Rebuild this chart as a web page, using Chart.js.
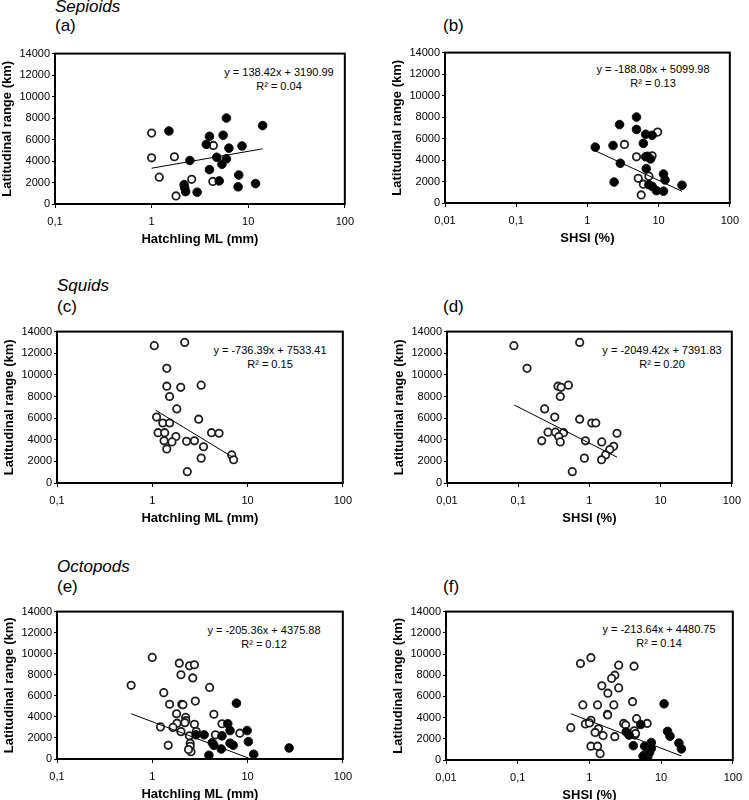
<!DOCTYPE html>
<html><head><meta charset="utf-8">
<script src="https://cdn.jsdelivr.net/npm/chart.js@4.4.0/dist/chart.umd.min.js"></script>
<style>
body{margin:0;width:749px;height:800px;position:relative;background:#fff;font-family:'Liberation Sans',Arial,sans-serif;overflow:hidden}
canvas{position:absolute}
.lbl{position:absolute;font-size:17px;line-height:20px;color:#000;white-space:nowrap}
.it{font-style:italic}
.eq{position:absolute;width:200px;text-align:center;font-size:11px;line-height:13.5px;color:#000;white-space:nowrap}
</style></head><body>
<div class="lbl it" style="left:55px;top:-3px">Sepioids</div>
<div class="lbl" style="left:55px;top:16px">(a)</div>
<div class="lbl" style="left:443px;top:16px">(b)</div>
<div class="lbl it" style="left:57px;top:276px">Squids</div>
<div class="lbl" style="left:57px;top:297px">(c)</div>
<div class="lbl" style="left:443px;top:297px">(d)</div>
<div class="lbl it" style="left:57px;top:557px">Octopods</div>
<div class="lbl" style="left:57px;top:577px">(e)</div>
<div class="lbl" style="left:443px;top:577px">(f)</div>

<div class="eq" style="left:179px;top:66px"><div>y = 138.42x + 3190.99</div><div>R² = 0.04</div></div>
<div class="eq" style="left:553px;top:63px"><div>y = -188.08x + 5099.98</div><div>R² = 0.13</div></div>
<div class="eq" style="left:170px;top:344px"><div>y = -736.39x + 7533.41</div><div>R² = 0.15</div></div>
<div class="eq" style="left:562px;top:344px"><div>y = -2049.42x + 7391.83</div><div>R² = 0.20</div></div>
<div class="eq" style="left:164px;top:624px"><div>y = -205.36x + 4375.88</div><div>R² = 0.12</div></div>
<div class="eq" style="left:559px;top:623px"><div>y = -213.64x + 4480.75</div><div>R² = 0.14</div></div>

<canvas id="pa"></canvas><canvas id="pb"></canvas>
<canvas id="pc"></canvas><canvas id="pd"></canvas>
<canvas id="pe"></canvas><canvas id="pf"></canvas>
<script>
// ---------- tick labels ----------
const yTickValues = [0, 2000, 4000, 6000, 8000, 10000, 12000, 14000];
const yTickLabels = ['0', '2000', '4000', '6000', '8000', '10000', '12000', '14000'];
const mlTickValues = [0.1, 1, 10, 100];
const mlTickLabels = ['0,1', '1', '10', '100'];
const shsiTickValues = [0.01, 0.1, 1, 10, 100];
const shsiTickLabels = ['0,01', '0,1', '1', '10', '100'];

// ---------- (a) Sepioids, hatchling ML ----------
const sepMLOpenX = [1.0, 1.0, 1.72, 1.2, 1.79, 2.6, 4.36, 4.3];
const sepMLOpenY = [6600, 4300, 4400, 2500, 750, 2300, 5450, 2100];
const sepMLFilledX = [1.51, 5.95, 14.1, 3.97, 5.5, 3.68, 6.31, 8.62, 2.49, 4.72, 5.95, 5.34, 3.97, 5.01, 7.98, 7.86, 11.9, 2.17, 2.2, 2.25, 2.96];
const sepMLFilledY = [6800, 8000, 7300, 6300, 6400, 5550, 5200, 5400, 4050, 4350, 4200, 3700, 3200, 2150, 2700, 1600, 1900, 1800, 1500, 1150, 1100];
const sepMLTrendX = [1.0, 14.1];
const sepMLTrendY = [3330, 5140];

// ---------- (b) Sepioids, SHSI ----------
const sepSHSIOpenX = [9.7, 3.31, 4.89, 8.1, 5.17, 7.3, 6.1, 5.7];
const sepSHSIOpenY = [6600, 5450, 4300, 4400, 2300, 2500, 1750, 750];
const sepSHSIFilledX = [4.89, 2.83, 4.89, 6.57, 8.1, 1.29, 2.29, 6.1, 6.57, 7.7, 7.0, 2.9, 6.7, 11.7, 12.3, 2.37, 7.3, 8.1, 9.3, 11.7, 21.3];
const sepSHSIFilledY = [8000, 7300, 6850, 6400, 6300, 5200, 5350, 5550, 4300, 4100, 4350, 3700, 3200, 2700, 2150, 1950, 1700, 1550, 1150, 1100, 1650];
const sepSHSITrendX = [1.29, 21.3];
const sepSHSITrendY = [4860, 1090];

// ---------- (c) Squids, hatchling ML ----------
const squidMLX = [1.05, 2.19, 1.42, 1.42, 1.99, 3.26, 1.52, 1.81, 1.11, 3.07, 1.29, 1.52, 1.15, 1.35, 4.19, 5.02, 1.77, 1.33, 1.61, 2.29, 2.77, 3.45, 1.42, 3.26, 6.82, 7.14, 2.33];
const squidMLY = [12700, 13000, 10600, 8950, 8850, 9050, 8000, 6850, 6100, 5900, 5550, 5550, 4650, 4650, 4650, 4600, 4300, 3900, 3800, 3850, 3900, 3350, 3150, 2300, 2600, 2150, 1050];
const squidMLTrendX = [1.08, 6.98];
const squidMLTrendY = [6740, 2390];

// ---------- (d) Squids, SHSI ----------
const squidSHSIX = [0.087, 0.73, 0.133, 0.362, 0.40, 0.507, 0.39, 0.235, 0.326, 0.73, 1.08, 1.23, 0.262, 0.333, 0.433, 2.44, 0.37, 0.214, 0.39, 0.88, 1.49, 2.19, 1.93, 1.69, 1.48, 0.85, 0.575];
const squidSHSIY = [12700, 13000, 10600, 8950, 8850, 9050, 8000, 6850, 6100, 5900, 5550, 5550, 4700, 4700, 4650, 4600, 4300, 3900, 3800, 3900, 3800, 3400, 3100, 2600, 2150, 2300, 1050];
const squidSHSITrendX = [0.088, 2.44];
const squidSHSITrendY = [7210, 2390];

// ---------- (e) Octopods, hatchling ML ----------
const octMLOpenX = [1.0, 1.92, 2.46, 2.77, 2.0, 2.66, 0.6, 4.0, 1.32, 1.52, 2.04, 2.1, 2.83, 4.43, 1.8, 2.24, 2.25, 2.2, 1.82, 1.22, 1.65, 2.77, 5.39, 2.9, 4.6, 8.3, 2.0, 2.45, 2.5, 2.5, 2.55, 1.47, 2.4];
const octMLOpenY = [9650, 9100, 8850, 8950, 8000, 7700, 7000, 6800, 6300, 5200, 5200, 5150, 5500, 4250, 4300, 3950, 3650, 3450, 3400, 3050, 3000, 3300, 3350, 2600, 2300, 2450, 2600, 2200, 1500, 1200, 700, 1300, 900];
const octMLFilledX = [7.65, 6.2, 6.55, 9.9, 2.88, 3.5, 5.39, 4.26, 10.2, 6.55, 7.07, 4.43, 5.3, 3.93, 11.6, 27.3];
const octMLFilledY = [5300, 3350, 2700, 2700, 2300, 2300, 2200, 1550, 1650, 1500, 1300, 1300, 950, 350, 450, 1050];
const octMLTrendX = [0.6, 10.3];
const octMLTrendY = [4300, 80];

// ---------- (f) Octopods, SHSI ----------
const octSHSIOpenX = [1.05, 0.75, 2.56, 4.19, 2.26, 2.04, 1.49, 2.56, 1.81, 4.0, 0.81, 1.3, 2.19, 1.78, 1.8, 4.55, 1.05, 0.88, 1.0, 3.0, 3.2, 6.4, 0.55, 1.34, 1.2, 4.23, 4.3, 1.55, 2.26, 1.05, 1.3, 1.41, 4.4];
const octSHSIOpenY = [9650, 9100, 8950, 8850, 8000, 7700, 7000, 6800, 6300, 5500, 5200, 5200, 5200, 4300, 4250, 3900, 3750, 3400, 3500, 3450, 3300, 3450, 3050, 2950, 2600, 2750, 2350, 2300, 2200, 1300, 1300, 600, 2500];
const octSHSIFilledX = [11.0, 5.2, 3.26, 3.58, 12.3, 13.3, 17.7, 19.2, 4.1, 7.3, 5.9, 7.3, 5.8, 6.5, 5.6, 6.9];
const octSHSIFilledY = [5300, 3350, 2650, 2350, 2700, 2250, 1600, 1050, 1350, 1650, 1300, 1100, 450, 300, 350, 700];
const octSHSITrendX = [0.55, 19.2];
const octSHSITrendY = [4370, 380];

// ---------- layout ----------
const F = "'Liberation Sans', Arial, sans-serif";
const YW = 55, XH = 45, PADT = 8, PADR = 9;

const boxPlugin = {
  id: 'box',
  afterDraw(chart) {
    const a = chart.chartArea, ctx = chart.ctx;
    ctx.save();
    ctx.strokeStyle = '#000';
    ctx.lineWidth = 2;
    ctx.strokeRect(a.left, a.top, a.right - a.left, a.bottom - a.top);
    ctx.restore();
  }
};

function pts(xs, ys) { return xs.map((x, i) => ({ x: x, y: ys[i] })); }

function makePanel(id, rect, tickVals, tickLabels, xTitle, trendX, trendY, filledX, filledY, openX, openY) {
  const cv = document.getElementById(id);
  const W = rect.R - rect.L + YW + PADR, H = rect.B - rect.T + PADT + XH;
  cv.style.left = (rect.L - YW) + 'px';
  cv.style.top = (rect.T - PADT) + 'px';
  cv.width = W; cv.height = H;
  cv.style.width = W + 'px'; cv.style.height = H + 'px';
  const datasets = [{
    data: pts(trendX, trendY), showLine: true, borderColor: '#000', borderWidth: 1,
    pointRadius: 0, fill: false
  }];
  if (filledX) datasets.push({
    data: pts(filledX, filledY), backgroundColor: '#000', borderColor: '#111',
    pointRadius: 4.3, borderWidth: 1
  });
  if (openX) datasets.push({
    data: pts(openX, openY), backgroundColor: '#fff', borderColor: '#1e1e1e',
    pointRadius: 3.7, borderWidth: 1.8
  });
  new Chart(cv, {
    type: 'scatter',
    data: { datasets: datasets },
    options: {
      responsive: false, animation: false, devicePixelRatio: 1,
      layout: { padding: { top: PADT, right: PADR, left: 0, bottom: 0 } },
      plugins: { legend: { display: false }, tooltip: { enabled: false } },
      scales: {
        x: {
          type: 'logarithmic', min: tickVals[0], max: tickVals[tickVals.length - 1],
          afterBuildTicks: s => { s.ticks = tickVals.map(v => ({ value: v })); },
          afterFit: s => { s.height = XH; },
          ticks: {
            callback: (v, i) => tickLabels[i], font: { size: 11, family: F }, color: '#000',
            maxRotation: 0, autoSkip: false, padding: 7
          },
          grid: { drawOnChartArea: false, color: '#000', tickLength: 4, tickWidth: 1 },
          border: { color: '#000', width: 2 },
          title: { display: true, text: xTitle, font: { size: 13, weight: 'bold', family: F }, color: '#000', padding: { top: 2, bottom: 2 } }
        },
        y: {
          min: 0, max: 14000,
          afterBuildTicks: s => { s.ticks = yTickValues.map(v => ({ value: v })); },
          afterFit: s => { s.width = YW; },
          ticks: {
            callback: (v, i) => yTickLabels[i], font: { size: 11, family: F }, color: '#000', padding: 2
          },
          grid: { drawOnChartArea: false, color: '#000', tickLength: 3, tickWidth: 1 },
          border: { color: '#000', width: 2 },
          title: { display: true, text: 'Latitudinal range (km)', font: { size: 13, weight: 'bold', family: F }, color: '#000', padding: { top: 0, bottom: 0 } }
        }
      }
    },
    plugins: [boxPlugin]
  });
}

makePanel('pa', { L: 55, T: 53, R: 352, B: 204 }, mlTickValues, mlTickLabels, 'Hatchling ML (mm)',
  sepMLTrendX, sepMLTrendY, sepMLFilledX, sepMLFilledY, sepMLOpenX, sepMLOpenY);
makePanel('pb', { L: 445, T: 52, R: 737, B: 203 }, shsiTickValues, shsiTickLabels, 'SHSI (%)',
  sepSHSITrendX, sepSHSITrendY, sepSHSIFilledX, sepSHSIFilledY, sepSHSIOpenX, sepSHSIOpenY);
makePanel('pc', { L: 57, T: 331, R: 350, B: 483 }, mlTickValues, mlTickLabels, 'Hatchling ML (mm)',
  squidMLTrendX, squidMLTrendY, null, null, squidMLX, squidMLY);
makePanel('pd', { L: 447, T: 331, R: 739, B: 483 }, shsiTickValues, shsiTickLabels, 'SHSI (%)',
  squidSHSITrendX, squidSHSITrendY, null, null, squidSHSIX, squidSHSIY);
makePanel('pe', { L: 57, T: 611, R: 350, B: 759 }, mlTickValues, mlTickLabels, 'Hatchling ML (mm)',
  octMLTrendX, octMLTrendY, octMLFilledX, octMLFilledY, octMLOpenX, octMLOpenY);
makePanel('pf', { L: 446, T: 611, R: 740, B: 760 }, shsiTickValues, shsiTickLabels, 'SHSI (%)',
  octSHSITrendX, octSHSITrendY, octSHSIFilledX, octSHSIFilledY, octSHSIOpenX, octSHSIOpenY);
</script>
</body></html>
